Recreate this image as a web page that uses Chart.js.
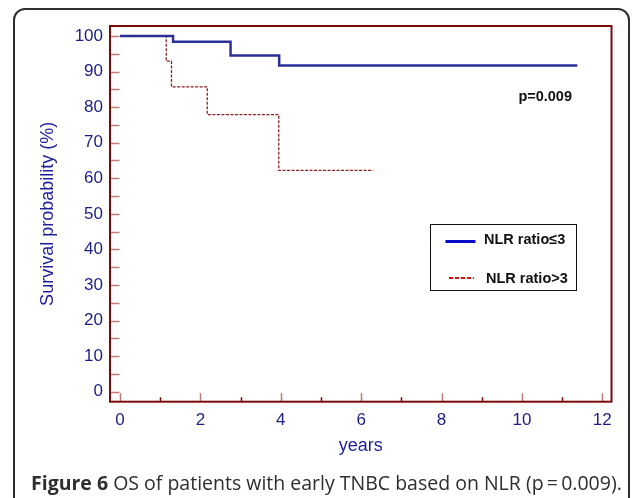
<!DOCTYPE html>
<html>
<head>
<meta charset="utf-8">
<script src="https://cdn.jsdelivr.net/npm/chart.js@4/dist/chart.umd.min.js"></script>
<style>
  html, body { margin: 0; padding: 0; background: #fff; }
  #wrap { position: relative; width: 635px; height: 498px; overflow: hidden; }
  #frame {
    position: absolute; left: 13px; top: 8px; width: 617px; height: 530px;
    border: 2px solid #2e2e2e; border-radius: 12px; box-sizing: border-box;
  }
  #chart { position: absolute; left: 0; top: 0; }
  #caption {
    position: absolute; left: 31px; top: 468.5px; white-space: nowrap;
    font-family: "Open Sans", sans-serif; font-size: 19.5px; line-height: normal; color: #2e2e2e;
  }
  #caption b { font-weight: 700; }
</style>
</head>
<body>
<div id="wrap">
  <div id="frame"></div>
  <canvas id="chart" width="635" height="498"></canvas>
  <div id="caption"><b>Figure 6</b> OS of patients with early TNBC based on NLR (p&#8201;=&#8201;0.009).</div>
</div>
<script>
// =========================
// Données
// =========================
const timesLow = [0, 1.32, 2.75, 3.96, 11.38];
const survLow = [100, 98.4, 94.5, 91.7, 91.7];

const timesHigh = [0, 1.15, 1.28, 2.17, 3.95, 6.30];
const survHigh = [100, 92.9, 85.7, 77.9, 62.2, 62.2];

const xTicks = [0, 2, 4, 6, 8, 10, 12];
const xMinorTicks = [1, 3, 5, 7, 9, 11];
const yTicks = [0, 10, 20, 30, 40, 50, 60, 70, 80, 90, 100];
const yMinorTicks = [5, 15, 25, 35, 45, 55, 65, 75, 85, 95];

const labelLow = "NLR ratio≤3";
const labelHigh = "NLR ratio>3";
const pValueText = "p=0.009";

const toPoints = (xs, ys) => xs.map((x, i) => ({ x: x, y: ys[i] }));

// =========================
// Cadre, graduations internes, légende, p-value
// =========================
const frameColor = '#7a0b0b';
const majorTickColor = '#c07a7a';
const minorTickColor = '#7a0b0b';

const decorPlugin = {
  id: 'decor',
  afterDatasetsDraw(chart) {
    const ctx = chart.ctx;
    const area = chart.chartArea;
    const xs = chart.scales.x;
    const ys = chart.scales.y;
    ctx.save();

    // graduations vers l'intérieur
    ctx.lineWidth = 1.5;
    ctx.strokeStyle = majorTickColor;
    yTicks.concat(yMinorTicks).forEach(v => {
      const py = Math.round(ys.getPixelForValue(v)) + 0.5;
      ctx.beginPath(); ctx.moveTo(area.left, py); ctx.lineTo(area.left + 9.5, py); ctx.stroke();
    });
    xTicks.forEach(v => {
      const px = Math.round(xs.getPixelForValue(v)) + 0.5;
      ctx.beginPath(); ctx.moveTo(px, area.bottom); ctx.lineTo(px, area.bottom - 8.5); ctx.stroke();
    });
    ctx.strokeStyle = minorTickColor;
    xMinorTicks.forEach(v => {
      const px = Math.round(xs.getPixelForValue(v)) + 0.5;
      ctx.beginPath(); ctx.moveTo(px, area.bottom); ctx.lineTo(px, area.bottom - 4.5); ctx.stroke();
    });

    // cadre
    ctx.lineWidth = 2;
    ctx.strokeStyle = frameColor;
    ctx.strokeRect(area.left, area.top, area.right - area.left, area.bottom - area.top);

    // p-value
    ctx.fillStyle = '#111';
    ctx.font = 'bold 14.5px "Liberation Sans", Arial, sans-serif';
    ctx.textAlign = 'right';
    ctx.textBaseline = 'middle';
    ctx.fillText(pValueText, 572, 97);

    // légende
    const box = { x: 430.5, y: 224.5, w: 146, h: 66 };
    ctx.fillStyle = '#fff';
    ctx.fillRect(box.x, box.y, box.w, box.h);
    ctx.lineWidth = 1;
    ctx.strokeStyle = '#111';
    ctx.strokeRect(box.x, box.y, box.w, box.h);

    ctx.lineWidth = 3;
    ctx.strokeStyle = '#0a0ac8';
    ctx.beginPath(); ctx.moveTo(445.5, 241.5); ctx.lineTo(475.5, 241.5); ctx.stroke();

    ctx.lineWidth = 2;
    ctx.strokeStyle = '#e01010';
    ctx.setLineDash([4, 2]);
    ctx.beginPath(); ctx.moveTo(449, 278); ctx.lineTo(474, 278); ctx.stroke();
    ctx.setLineDash([]);

    ctx.fillStyle = '#111';
    ctx.textAlign = 'left';
    ctx.fillText(labelLow, 484, 240);
    ctx.fillText(labelHigh, 486, 279);

    ctx.restore();
  }
};

const ctx = document.getElementById('chart').getContext('2d');

new Chart(ctx, {
  type: 'line',
  data: {
    datasets: [
      {
        label: labelLow,
        data: toPoints(timesLow, survLow),
        borderColor: '#2c2f98',
        borderWidth: 2.5,
        stepped: true,
        pointRadius: 0,
        fill: false
      },
      {
        label: labelHigh,
        data: toPoints(timesHigh, survHigh),
        borderColor: '#8e1f1f',
        borderWidth: 1.3,
        borderDash: [3, 1.5],
        stepped: true,
        pointRadius: 0,
        fill: false
      }
    ]
  },
  plugins: [decorPlugin],
  options: {
    responsive: false,
    animation: false,
    layout: { padding: { left: 0, top: 26, right: 23.5, bottom: 0 } },
    plugins: { legend: { display: false }, tooltip: { enabled: false } },
    scales: {
      x: {
        type: 'linear',
        min: -0.25,
        max: 12.23,
        grid: { display: false, drawTicks: false },
        border: { display: false },
        afterBuildTicks: s => { s.ticks = xTicks.map(v => ({ value: v })); },
        afterFit: s => { s.height = 96.3; },
        ticks: {
          padding: 8,
          color: '#1c1c84',
          font: { family: '"Liberation Sans", Arial, sans-serif', size: 17 },
          maxRotation: 0
        },
        title: {
          display: true,
          text: 'years',
          color: '#1f1f9a',
          font: { family: '"Liberation Sans", Arial, sans-serif', size: 18 },
          padding: { top: 0, bottom: 41 }
        }
      },
      y: {
        min: -2.8,
        max: 102.8,
        grid: { display: false, drawTicks: false },
        border: { display: false },
        afterBuildTicks: s => { s.ticks = yTicks.map(v => ({ value: v })); },
        afterFit: s => { s.width = 110; },
        ticks: {
          padding: 7,
          color: '#1c1c84',
          font: { family: '"Liberation Sans", Arial, sans-serif', size: 17 }
        },
        title: {
          display: true,
          text: 'Survival probability (%)',
          color: '#1f1f9a',
          font: { family: '"Liberation Sans", Arial, sans-serif', size: 18 },
          padding: { top: 37, bottom: 0 }
        }
      }
    }
  }
});
</script>
</body>
</html>
